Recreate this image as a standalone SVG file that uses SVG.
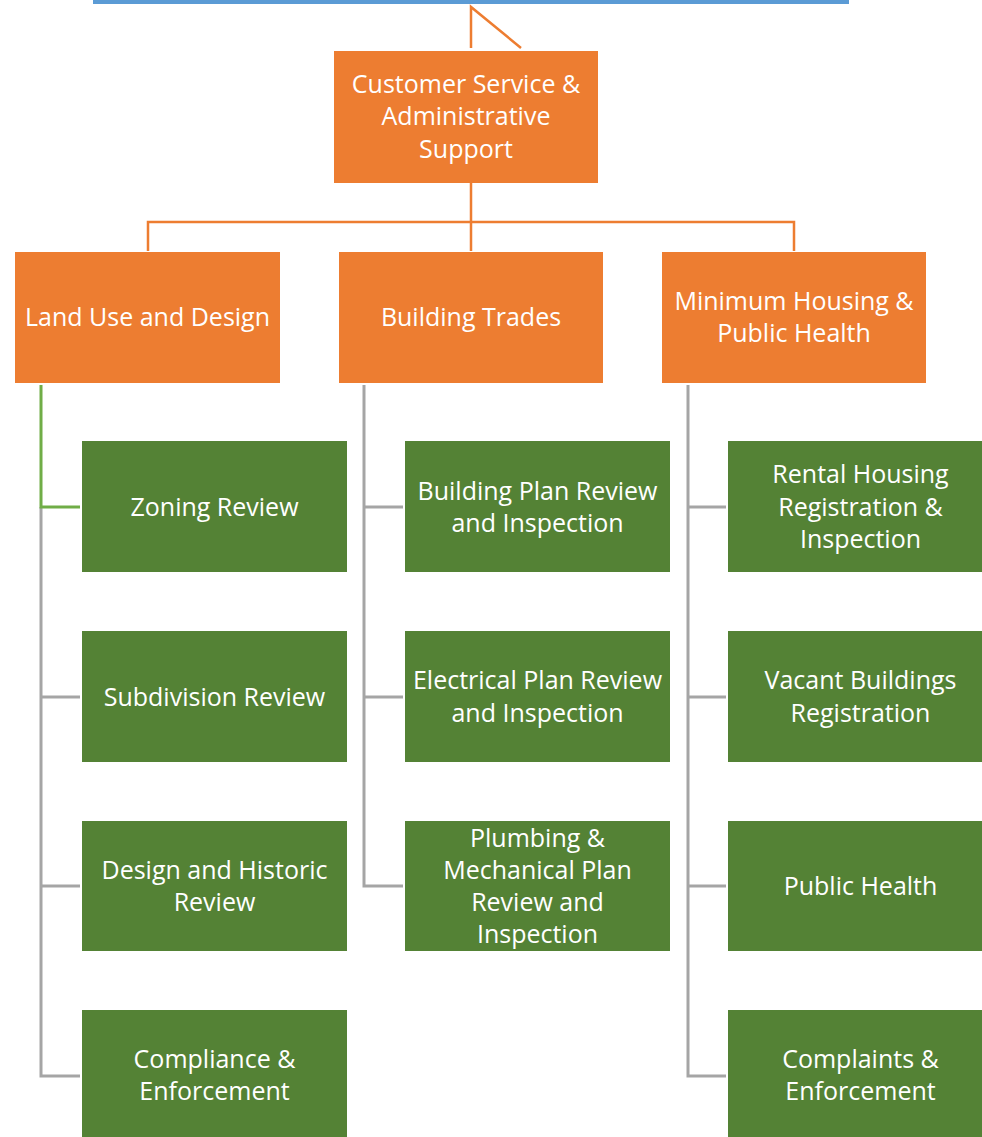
<svg xmlns="http://www.w3.org/2000/svg" width="982" height="1137" viewBox="0 0 982 1137">
<style>
.o{fill:#ed7d31}
.g{fill:#548235}
.t{fill:#fff;font-family:"Open Sans","Noto Sans",sans-serif;font-size:25px;text-anchor:middle}
.co{fill:none;stroke:#ed7d31;stroke-width:2.5}
.cg{fill:none;stroke:#a5a5a5;stroke-width:3}
.cgr{fill:none;stroke:#70ad47;stroke-width:3}
</style>
<rect x="93" y="0" width="756" height="4" fill="#5b9bd5"/>
<g id="connectors">
<path class="co" d="M471,48 V7 L521,48"/>
<path class="co" d="M471,183 V222 M148,251 V222 H794 V251 M471,222 V251"/>
<path class="cg" d="M41,507 V1076 H80 M41,697 H80 M41,886 H80"/>
<path class="cgr" d="M41,385 V507 H80"/>
<path class="cg" d="M364,385 V886 H403 M364,507 H403 M364,697 H403"/>
<path class="cg" d="M688,385 V1076 H726 M688,507 H726 M688,697 H726 M688,886 H726"/>
</g>
<g id="n-top"><rect class="o" x="334" y="51" width="264" height="132"/>
<text class="t" x="466" y="93">Customer Service &amp;</text><text class="t" x="466" y="125">Administrative</text><text class="t" x="466" y="158">Support</text></g>
<g id="n-land"><rect class="o" x="15" y="252" width="265" height="131"/><text class="t" x="147.5" y="326">Land Use and Design</text></g>
<g id="n-build"><rect class="o" x="339" y="252" width="264" height="131"/><text class="t" x="471" y="326">Building Trades</text></g>
<g id="n-min"><rect class="o" x="662" y="252" width="264" height="131"/><text class="t" x="794" y="310">Minimum Housing &amp;</text><text class="t" x="794" y="342">Public Health</text></g>

<g id="n-zoning"><rect class="g" x="82" y="441" width="265" height="131"/><text class="t" x="214.5" y="516">Zoning Review</text></g>
<g id="n-subdiv"><rect class="g" x="82" y="631" width="265" height="131"/><text class="t" x="214.5" y="706">Subdivision Review</text></g>
<g id="n-design"><rect class="g" x="82" y="821" width="265" height="130"/><text class="t" x="214.5" y="879">Design and Historic</text><text class="t" x="214.5" y="911">Review</text></g>
<g id="n-compl"><rect class="g" x="82" y="1010" width="265" height="131"/><text class="t" x="214.5" y="1068">Compliance &amp;</text><text class="t" x="214.5" y="1100">Enforcement</text></g>

<g id="n-bpr"><rect class="g" x="405" y="441" width="265" height="131"/><text class="t" x="537.5" y="500">Building Plan Review</text><text class="t" x="537.5" y="532">and Inspection</text></g>
<g id="n-epr"><rect class="g" x="405" y="631" width="265" height="131"/><text class="t" x="537.5" y="689">Electrical Plan Review</text><text class="t" x="537.5" y="722">and Inspection</text></g>
<g id="n-pmpr"><rect class="g" x="405" y="821" width="265" height="130"/><text class="t" x="537.5" y="847">Plumbing &amp;</text><text class="t" x="537.5" y="879">Mechanical Plan</text><text class="t" x="537.5" y="911">Review and</text><text class="t" x="537.5" y="943">Inspection</text></g>

<g id="n-rental"><rect class="g" x="728" y="441" width="265" height="131"/><text class="t" x="860.5" y="483">Rental Housing</text><text class="t" x="860.5" y="516">Registration &amp;</text><text class="t" x="860.5" y="548">Inspection</text></g>
<g id="n-vacant"><rect class="g" x="728" y="631" width="265" height="131"/><text class="t" x="860.5" y="689">Vacant Buildings</text><text class="t" x="860.5" y="722">Registration</text></g>
<g id="n-ph"><rect class="g" x="728" y="821" width="265" height="130"/><text class="t" x="860.5" y="895">Public Health</text></g>
<g id="n-complaints"><rect class="g" x="728" y="1010" width="265" height="131"/><text class="t" x="860.5" y="1068">Complaints &amp;</text><text class="t" x="860.5" y="1100">Enforcement</text></g>
</svg>
